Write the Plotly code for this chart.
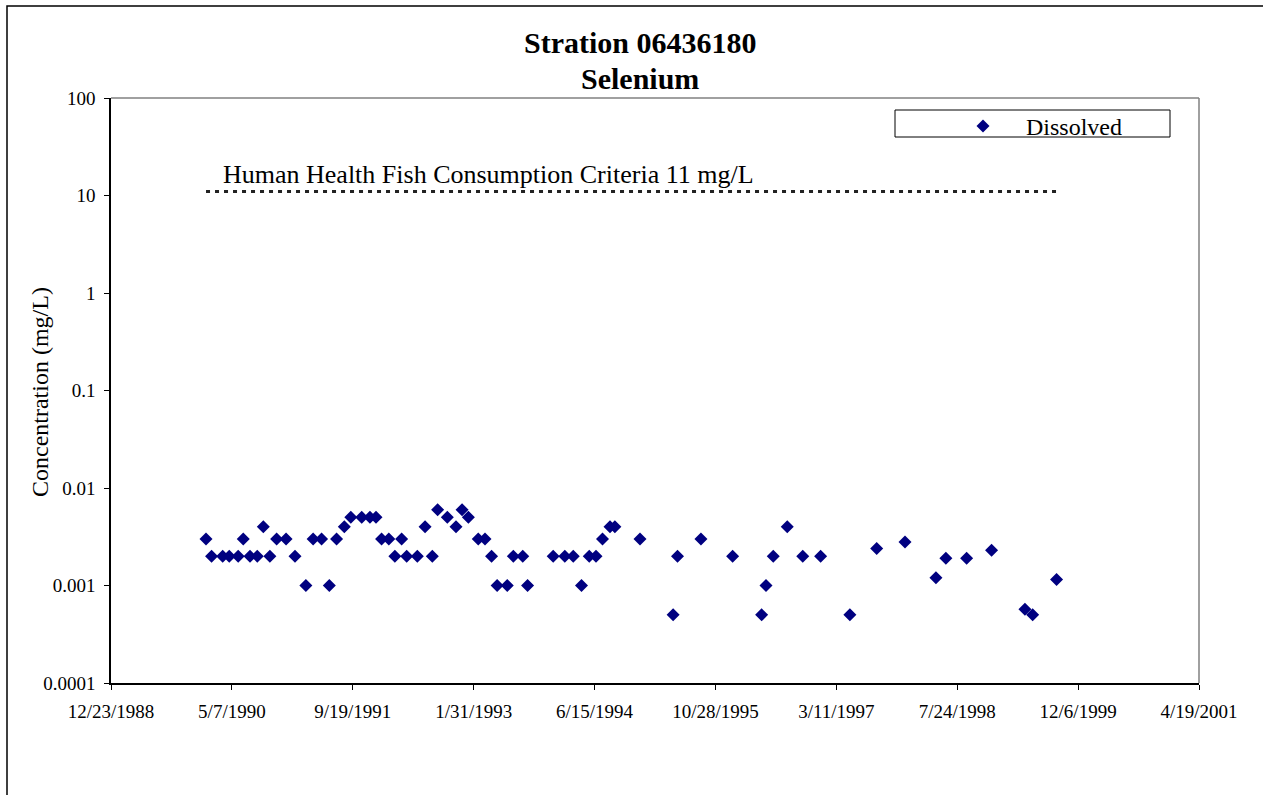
import plotly.graph_objects as go

# Dissolved selenium samples, Station 06436180
sample_dates = [
    "1990-01-20", "1990-02-12", "1990-03-30", "1990-04-26", "1990-06-02",
    "1990-06-23", "1990-07-21", "1990-08-20", "1990-09-14", "1990-10-11",
    "1990-11-08", "1990-12-17", "1991-01-23", "1991-03-09", "1991-04-08",
    "1991-05-13", "1991-06-14", "1991-07-14", "1991-08-15", "1991-09-11",
    "1991-10-26", "1991-11-29", "1991-12-24", "1992-01-16", "1992-02-15",
    "1992-03-11", "1992-04-08", "1992-04-29", "1992-06-12", "1992-07-14",
    "1992-08-13", "1992-09-04", "1992-10-14", "1992-11-19", "1992-12-14",
    "1993-01-09", "1993-02-19", "1993-03-19", "1993-04-15", "1993-05-08",
    "1993-06-19", "1993-07-14", "1993-08-22", "1993-09-11", "1993-12-26",
    "1994-02-12", "1994-03-19", "1994-04-22", "1994-05-24", "1994-06-21",
    "1994-07-18", "1994-08-18", "1994-09-07", "1994-12-20", "1995-05-06",
    "1995-05-24", "1995-08-29", "1996-01-07", "1996-05-06", "1996-05-24",
    "1996-06-23", "1996-08-20", "1996-10-23", "1997-01-05", "1997-05-06",
    "1997-08-25", "1997-12-20", "1998-04-27", "1998-06-07", "1998-09-01",
    "1998-12-13", "1999-04-30", "1999-06-01", "1999-09-08",
]
dissolved = [
    0.003, 0.002, 0.002, 0.002, 0.002,
    0.003, 0.002, 0.002, 0.004, 0.002,
    0.003, 0.003, 0.002, 0.001, 0.003,
    0.003, 0.001, 0.003, 0.004, 0.005,
    0.005, 0.005, 0.005, 0.003, 0.003,
    0.002, 0.003, 0.002, 0.002, 0.004,
    0.002, 0.006, 0.005, 0.004, 0.006,
    0.005, 0.003, 0.003, 0.002, 0.001,
    0.001, 0.002, 0.002, 0.001, 0.002,
    0.002, 0.002, 0.001, 0.002, 0.002,
    0.003, 0.004, 0.004, 0.003, 0.0005,
    0.002, 0.003, 0.002, 0.0005, 0.001,
    0.002, 0.004, 0.002, 0.002, 0.0005,
    0.0024, 0.0028, 0.0012, 0.0019, 0.0019,
    0.0023, 0.00057, 0.0005, 0.00115,
]

title_lines = ["Stration 06436180", "Selenium"]
criterion_label = "Human Health Fish Consumption Criteria 11 mg/L"
criterion_value = 11
criterion_dates = [sample_dates[0], sample_dates[-1]]

x_tick_dates = [
    "1988-12-23", "1990-05-07", "1991-09-19", "1993-01-31", "1994-06-15",
    "1995-10-28", "1997-03-11", "1998-07-24", "1999-12-06", "2001-04-19",
]
x_tick_labels = [
    "12/23/1988", "5/7/1990", "9/19/1991", "1/31/1993", "6/15/1994",
    "10/28/1995", "3/11/1997", "7/24/1998", "12/6/1999", "4/19/2001",
]
y_tick_values = [0.0001, 0.001, 0.01, 0.1, 1, 10, 100]
y_tick_labels = ["0.0001", "0.001", "0.01", "0.1", "1", "10", "100"]

# Page geometry (pixels)
W, H = 1263, 795
L, R, T, B = 111, 1199, 98, 683
SERIF = "Liberation Serif, Times New Roman, serif"


def px_x(px):
    return (px - L) / (R - L)


def px_y(py):
    return (B - py) / (B - T)


fig = go.Figure()

fig.add_trace(go.Scatter(
    x=criterion_dates, y=[criterion_value] * len(criterion_dates),
    mode="lines", line=dict(color="#222222", width=3, dash="4px,5px"),
    showlegend=False, hoverinfo="skip",
))

fig.add_trace(go.Scatter(
    x=sample_dates, y=dissolved, mode="markers", name="Dissolved",
    marker=dict(symbol="diamond", size=10, color="#000080",
                line=dict(width=0)),
))

shapes = [
    # outer chart frame
    dict(type="rect", xref="paper", yref="paper",
         x0=px_x(7), x1=px_x(1275), y0=px_y(810), y1=px_y(6),
         line=dict(color="black", width=1.5), fillcolor="rgba(0,0,0,0)"),
    # plot-area border (top and right)
    dict(type="line", xref="paper", yref="paper", x0=0, x1=1, y0=1, y1=1,
         line=dict(color="#808080", width=1.5)),
    dict(type="line", xref="paper", yref="paper", x0=1, x1=1, y0=0, y1=1,
         line=dict(color="#808080", width=1.5)),
    # legend frame
    dict(type="rect", xref="paper", yref="paper",
         x0=px_x(895), x1=px_x(1170), y0=px_y(137), y1=px_y(110),
         line=dict(color="black", width=1), fillcolor="white", layer="below"),
]

annotations = [
    # two-line bold title
    dict(text="<b>%s</b>" % title_lines[0], xref="paper", yref="paper",
         x=px_x(640), y=px_y(43), xanchor="center", yanchor="middle",
         showarrow=False, font=dict(family=SERIF, size=30, color="black")),
    dict(text="<b>%s</b>" % title_lines[1], xref="paper", yref="paper",
         x=px_x(640), y=px_y(79), xanchor="center", yanchor="middle",
         showarrow=False, font=dict(family=SERIF, size=30, color="black")),
    dict(text=criterion_label, xref="paper", yref="paper",
         x=px_x(221), y=px_y(174), xanchor="left", yanchor="middle",
         showarrow=False, font=dict(family=SERIF, size=26, color="black")),
    dict(text="Concentration (mg/L)", xref="paper", yref="paper",
         x=px_x(40), y=px_y(392), xanchor="center", yanchor="middle",
         textangle=-90, showarrow=False,
         font=dict(family=SERIF, size=24, color="black")),
]

fig.update_layout(
    width=W, height=H,
    margin=dict(l=L, r=W - R, t=T, b=H - B, pad=0),
    paper_bgcolor="white", plot_bgcolor="white",
    font=dict(family=SERIF, color="black"),
    showlegend=True,
    legend=dict(
        x=px_x(940), y=px_y(104), xanchor="left", yanchor="top",
        bgcolor="rgba(0,0,0,0)", borderwidth=0, itemwidth=76,
        font=dict(family=SERIF, size=24, color="black"),
    ),
    shapes=shapes,
    annotations=annotations,
    xaxis=dict(
        type="date", range=[x_tick_dates[0], x_tick_dates[-1]],
        tickmode="array", tickvals=x_tick_dates, ticktext=x_tick_labels,
        showgrid=False, zeroline=False, showline=True,
        linecolor="black", linewidth=1.5,
        ticks="outside", ticklen=5, tickwidth=1, tickcolor="black",
        ticklabelstandoff=5,
        tickfont=dict(family=SERIF, size=19, color="black"),
    ),
    yaxis=dict(
        type="log", range=[-4, 2],
        tickmode="array", tickvals=y_tick_values, ticktext=y_tick_labels,
        showgrid=False, zeroline=False, showline=True,
        linecolor="black", linewidth=1.5,
        ticks="outside", ticklen=5, tickwidth=1, tickcolor="black",
        ticklabelstandoff=5,
        tickfont=dict(family=SERIF, size=19, color="black"),
    ),
)

fig.write_html("out.html")
